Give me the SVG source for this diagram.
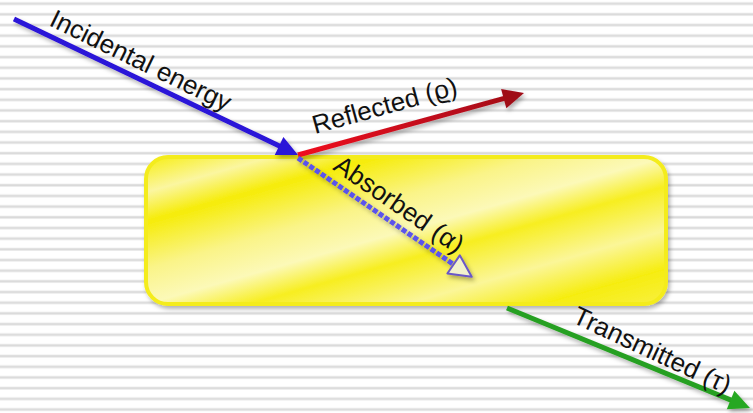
<svg xmlns="http://www.w3.org/2000/svg" width="753" height="413" viewBox="0 0 753 413">
<defs>
<pattern id="stripes" patternUnits="userSpaceOnUse" width="753" height="10.68" y="1.5">
<rect x="0" y="0" width="753" height="10.68" fill="#ffffff"/>
<rect x="0" y="0.6" width="753" height="3.2" fill="#eeeeee"/>
<rect x="0" y="1.3" width="753" height="1.8" fill="#dadada"/>
</pattern>
<linearGradient id="slab" x1="0" y1="0" x2="1" y2="1" gradientUnits="objectBoundingBox">
<stop offset="0" stop-color="#f7ee10"/>
<stop offset="0.12" stop-color="#fbf6a0"/>
<stop offset="0.22" stop-color="#f6ec08"/>
<stop offset="0.38" stop-color="#faf488"/>
<stop offset="0.5" stop-color="#fcf9b8"/>
<stop offset="0.6" stop-color="#f7ee20"/>
<stop offset="0.75" stop-color="#fbf698"/>
<stop offset="0.88" stop-color="#f6ed10"/>
<stop offset="1" stop-color="#f8f040"/>
</linearGradient>
<linearGradient id="redgrad" x1="298" y1="155" x2="524" y2="93" gradientUnits="userSpaceOnUse">
<stop offset="0" stop-color="#f01020"/>
<stop offset="1" stop-color="#a00a18"/>
</linearGradient>
<filter id="shadow" x="-20%" y="-20%" width="140%" height="160%">
<feDropShadow dx="2" dy="3" stdDeviation="2" flood-color="#000" flood-opacity="0.3"/>
</filter>
<marker id="headBlue" markerUnits="userSpaceOnUse" markerWidth="40" markerHeight="40" viewBox="-20 -20 40 40" refX="0" refY="0" orient="auto" overflow="visible">
<path d="M12,0 L-9,-10 L-9,10 Z" fill="#2a12d8"/>
</marker>
<marker id="headRed" markerUnits="userSpaceOnUse" markerWidth="40" markerHeight="40" viewBox="-20 -20 40 40" refX="0" refY="0" orient="auto" overflow="visible">
<path d="M12,0 L-9,-10 L-9,10 Z" fill="#a00a18"/>
</marker>
<marker id="headGreen" markerUnits="userSpaceOnUse" markerWidth="40" markerHeight="40" viewBox="-20 -20 40 40" refX="0" refY="0" orient="auto" overflow="visible">
<path d="M12,0 L-9,-10 L-9,10 Z" fill="#28a820"/>
</marker>
<marker id="headHollow" markerUnits="userSpaceOnUse" markerWidth="40" markerHeight="40" viewBox="-20 -20 40 40" refX="0" refY="0" orient="auto" overflow="visible">
<path d="M13,0 L-9,-11 L-9,11 Z" fill="#f2f2cc" stroke="#6a58c8" stroke-width="2" stroke-linejoin="round"/>
</marker>
</defs>
<style>
.lbl{font-family:"Liberation Sans",Arial,sans-serif;font-size:26px;fill:#111111}
.arrow{fill:none;stroke-width:5;filter:url(#shadow)}
</style>
<rect x="0" y="0" width="753" height="413" fill="url(#stripes)"/>
<g id="material">
<rect x="146" y="157" width="520" height="147" rx="22" ry="22" fill="url(#slab)" stroke="#f4ec1c" stroke-width="4" filter="url(#shadow)"/>
</g>
<g id="connectors">
<line id="incident" class="arrow" x1="14" y1="19" x2="287.2" y2="149.8" stroke="#2a12d8" marker-end="url(#headBlue)"/>
<line id="reflected" class="arrow" x1="298" y1="155" x2="512.4" y2="96.2" stroke="url(#redgrad)" marker-end="url(#headRed)"/>
<line id="absorbed" class="arrow" x1="298" y1="158" x2="461" y2="269.5" stroke="#5a52ec" stroke-dasharray="5 2" stroke-width="7" marker-end="url(#headHollow)"/>
<line id="transmitted" class="arrow" x1="507" y1="308" x2="738.9" y2="403.4" stroke="#26a020" marker-end="url(#headGreen)"/>
</g>
<g id="labels">
<text class="lbl" transform="translate(48,25) rotate(26)">Incidental energy</text>
<text class="lbl" transform="translate(315,134) rotate(-15.5)">Reflected (ϱ)</text>
<text class="lbl" transform="translate(332,169) rotate(34.5)">Absorbed (α)</text>
<text class="lbl" transform="translate(571,322) rotate(25)">Transmitted (τ)</text>
</g>
</svg>
